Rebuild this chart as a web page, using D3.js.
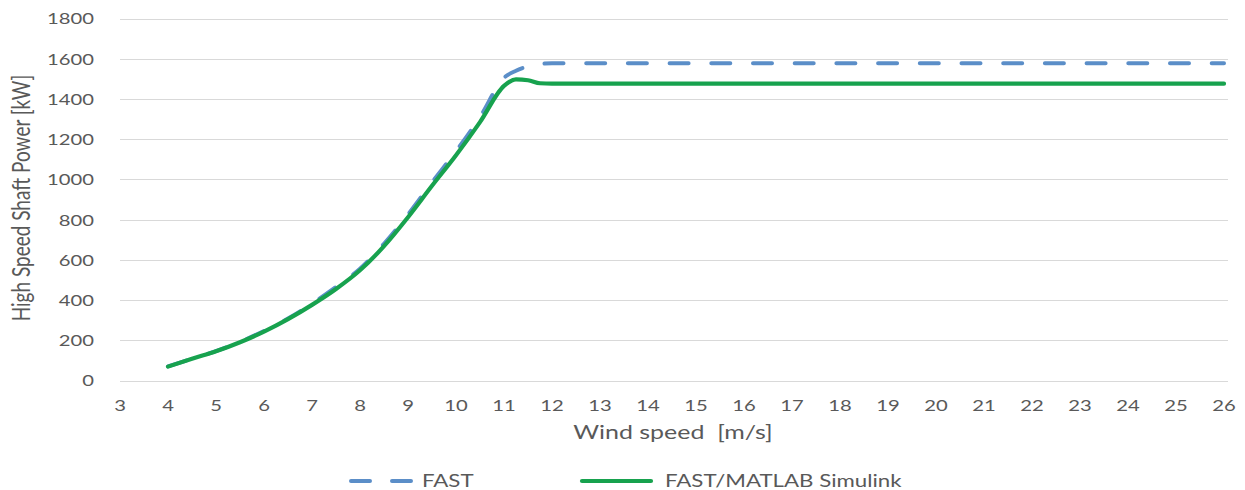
<!DOCTYPE html>
<html>
<head>
<meta charset="utf-8">
<script src="https://cdn.jsdelivr.net/npm/d3@7"></script>
<style>
  html, body { margin: 0; padding: 0; background: #ffffff; }
  svg { display: block; }
  text { white-space: pre; }
</style>
</head>
<body>
<svg id="chart" width="1245" height="490"></svg>
<script>
// Wind speed samples [m/s] shared by both series
const windSpeed = [4, 4.5, 5, 5.5, 6, 6.5, 7, 7.5, 8, 8.5, 9, 9.5, 10, 10.5, 11, 11.25, 11.5, 11.75,
  12, 13, 14, 15, 16, 17, 18, 19, 20, 21, 22, 23, 24, 25, 26];

// High speed shaft power [kW] — FAST stand-alone
const fastPower = [70, 108, 146, 192, 246, 308, 382, 465, 556, 680, 825, 985, 1140, 1310, 1505, 1540, 1562, 1574,
  1577, 1577, 1577, 1577, 1577, 1577, 1577, 1577, 1577, 1577, 1577, 1577, 1577, 1577, 1577];

// High speed shaft power [kW] — FAST coupled with MATLAB Simulink
const simulinkPower = [69, 108, 145, 190, 243, 305, 376, 455, 548, 668, 812, 968, 1120, 1285, 1465, 1497, 1493, 1478,
  1476, 1476, 1476, 1476, 1476, 1476, 1476, 1476, 1476, 1476, 1476, 1476, 1476, 1476, 1476];

const xTicks = d3.range(3, 27);
const yTicks = d3.range(0, 1801, 200);
const seriesNames = ["FAST", "FAST/MATLAB Simulink"];

const svg = d3.select("#chart");
const FONT = "Lato, 'Open Sans', sans-serif";
const TEXT = "#595959";
const SX = 1.35; // wide-set lettering

const x = d3.scaleLinear().domain([3, 26]).range([120, 1224]);
const y = d3.scaleLinear().domain([0, 1800]).range([380.5, 18.5]);

function label(g, px, py, str, size, anchor, rotate) {
  return g.append("text")
    .attr("transform", `translate(${px},${py}) scale(${SX},1)` + (rotate ? ` rotate(${rotate})` : ""))
    .attr("text-anchor", anchor)
    .attr("dominant-baseline", "central")
    .attr("font-family", FONT)
    .attr("font-size", size)
    .attr("fill", TEXT)
    .text(str);
}

// Horizontal gridlines
const grid = svg.append("g");
grid.selectAll("line").data(yTicks).join("line")
  .attr("x1", 120).attr("x2", 1228)
  .attr("y1", d => Math.round(y(d)) + 0.5).attr("y2", d => Math.round(y(d)) + 0.5)
  .attr("stroke", "#d9d9d9").attr("stroke-width", 1);

// Y tick labels
const yl = svg.append("g");
yTicks.forEach(t => label(yl, 94, y(t), String(t), 15, "end"));

// X tick labels
const xl = svg.append("g");
xTicks.forEach(t => label(xl, x(t), 405, String(t), 15, "middle"));

// Axis titles
label(svg, 673, 432, "Wind speed  [m/s]", 18.5, "middle");
label(svg, 20, 198, "High Speed Shaft Power [kW]", 19, "middle", -90);

const line = d3.line().curve(d3.curveMonotoneX).x(d => x(d[0])).y(d => y(d[1]));

// FAST series (dashed)
svg.append("path")
  .datum(windSpeed.map((w, i) => [w, fastPower[i]]))
  .attr("d", line)
  .attr("fill", "none")
  .attr("stroke", "#5b8ec8")
  .attr("stroke-width", 4)
  .attr("stroke-linecap", "round")
  .attr("stroke-dasharray", "19,22.7");

// FAST/MATLAB Simulink series (solid)
svg.append("path")
  .datum(windSpeed.map((w, i) => [w, simulinkPower[i]]))
  .attr("d", line)
  .attr("fill", "none")
  .attr("stroke", "#17a24e")
  .attr("stroke-width", 4.2)
  .attr("stroke-linecap", "round")
  .attr("stroke-linejoin", "round");

// Legend
const lg = svg.append("g");
lg.append("line").attr("x1", 351).attr("x2", 411).attr("y1", 481).attr("y2", 481)
  .attr("stroke", "#5b8ec8").attr("stroke-width", 4).attr("stroke-linecap", "round")
  .attr("stroke-dasharray", "19,22");
label(lg, 422, 481, seriesNames[0], 16.5, "start");
lg.append("line").attr("x1", 582).attr("x2", 651).attr("y1", 481).attr("y2", 481)
  .attr("stroke", "#17a24e").attr("stroke-width", 4.2).attr("stroke-linecap", "round");
label(lg, 665, 481, seriesNames[1], 16.5, "start");
</script>
</body>
</html>
